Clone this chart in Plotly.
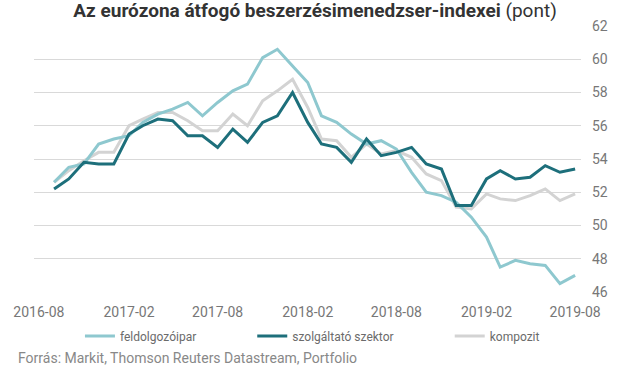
import plotly.graph_objects as go
import pandas as pd

months = pd.date_range("2016-09-01", "2019-08-01", freq="MS")

feldolgozoipar = [52.6, 53.5, 53.7, 54.9, 55.2, 55.4, 56.2, 56.7, 57.0, 57.4, 56.6, 57.4,
                  58.1, 58.5, 60.1, 60.6, 59.6, 58.6, 56.6, 56.2, 55.5, 54.9, 55.1, 54.6,
                  53.2, 52.0, 51.8, 51.4, 50.5, 49.3, 47.5, 47.9, 47.7, 47.6, 46.5, 47.0]
szolgaltato = [52.2, 52.8, 53.8, 53.7, 53.7, 55.5, 56.0, 56.4, 56.3, 55.4, 55.4, 54.7,
               55.8, 55.0, 56.2, 56.6, 58.0, 56.2, 54.9, 54.7, 53.8, 55.2, 54.2, 54.4,
               54.7, 53.7, 53.4, 51.2, 51.2, 52.8, 53.3, 52.8, 52.9, 53.6, 53.2, 53.4]
kompozit = [52.6, 53.3, 53.9, 54.4, 54.4, 56.0, 56.4, 56.8, 56.8, 56.3, 55.7, 55.7,
            56.7, 56.0, 57.5, 58.1, 58.8, 57.1, 55.2, 55.1, 54.1, 54.9, 54.3, 54.5,
            54.1, 53.1, 52.7, 51.1, 51.0, 51.9, 51.6, 51.5, 51.8, 52.2, 51.5, 51.9]

series_names = ["feldolgozóipar", "szolgáltató szektor", "kompozit"]
colors = ["#8ec8cf", "#1d6f7b", "#d3d3d3"]

tick_vals = ["2016-08-01", "2017-02-01", "2017-08-01", "2018-02-01",
             "2018-08-01", "2019-02-01", "2019-08-01"]
tick_text = ["2016-08", "2017-02", "2017-08", "2018-02", "2018-08", "2019-02", "2019-08"]
y_ticks = [46, 48, 50, 52, 54, 56, 58, 60, 62]

FONT = "Roboto"

fig = go.Figure()
legends = ["legend", "legend2", "legend3"]
order = [2, 0, 1]
data = [feldolgozoipar, szolgaltato, kompozit]
for i in order:
    fig.add_trace(go.Scatter(
        x=months, y=data[i], mode="lines", name=series_names[i],
        line=dict(color=colors[i], width=3), legend=legends[i],
        hoverinfo="skip"))

fig.add_hline(y=50, line=dict(color="#a0a0a0", width=1), layer="below")

leg_common = dict(orientation="h", yanchor="middle", y=-0.165, xanchor="left",
                  font=dict(family=FONT, size=12, color="#6b6b6b"),
                  bgcolor="rgba(0,0,0,0)", borderwidth=0, itemwidth=30)

fig.update_layout(
    width=630, height=377,
    margin=dict(l=34, r=49, t=26, b=85),
    paper_bgcolor="white", plot_bgcolor="white",
    font=dict(family=FONT),
    title=dict(
        text="<b>Az eurózona átfogó beszerzésimenedzser-indexei</b> (pont)",
        x=0.5, xref="container", xanchor="center",
        y=0.972, yref="container", yanchor="middle",
        font=dict(family=FONT, size=19, color="#333333")),
    xaxis=dict(
        type="date", range=["2016-07-22", "2019-08-13"],
        tickvals=tick_vals, ticktext=tick_text,
        showgrid=False, zeroline=False, showline=False,
        ticks="", ticklabelstandoff=10,
        tickfont=dict(family=FONT, size=14, color="#777777")),
    yaxis=dict(
        range=[46, 62], side="right", tickvals=y_ticks,
        showgrid=True, gridcolor="#d9d9d9", gridwidth=1,
        zeroline=False, showline=False, ticks="", ticklabelstandoff=10,
        tickfont=dict(family=FONT, size=14, color="#777777")),
    legend=dict(x=0.084, **leg_common),
    legend2=dict(x=0.399, **leg_common),
    legend3=dict(x=0.76, **leg_common),
    showlegend=True,
)

fig.add_annotation(
    text="Forrás: Markit, Thomson Reuters Datastream, Portfolio",
    xref="paper", yref="paper", x=-34/547, y=-(358-292)/266,
    xanchor="left", yanchor="middle", showarrow=False,
    font=dict(family=FONT, size=14, color="#888888"), xshift=16)

fig.write_html("out.html", config={"displayModeBar": False},
               post_script="document.body.style.margin='0px';")
